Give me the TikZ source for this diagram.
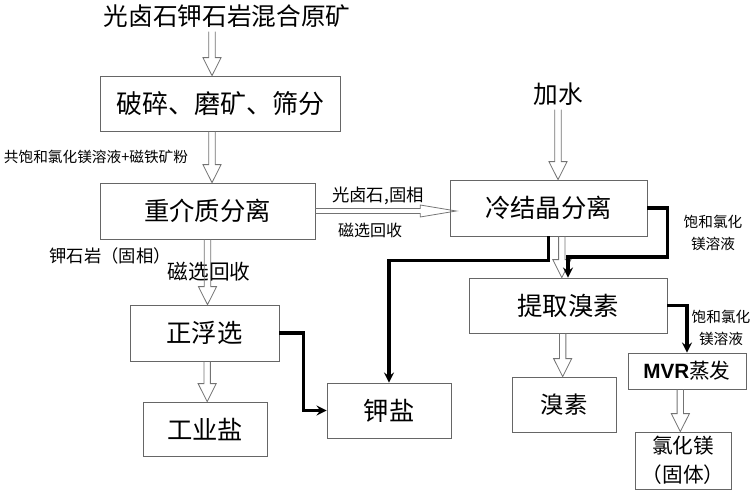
\documentclass[tikz,border=0pt]{standalone}
\usepackage{fontspec}
\setmainfont{Noto Sans CJK SC}
\newfontfamily\arial{Liberation Sans}
\usetikzlibrary{calc}
\begin{document}
\begin{tikzpicture}[
        x=0.75pt, y=-0.75pt,
        box/.style={rectangle, draw=black!60, line width=0.6pt, font=\fontsize{19}{20}\selectfont, align=center, inner sep=0pt},
        lbl/.style={font=\fontsize{11}{17}\selectfont, align=center, inner sep=0pt},
        flow/.style={->, >=stealth, line width=2.3pt},
        hdown/.style={draw=black!55, line width=0.6pt, to path={let \p1=(\tikztostart), \p2=(\tikztotarget) in
            (\x1-2.4pt,\y1) -- (\x1-2.4pt,\y2+13.5pt) -- (\x1-6.8pt,\y2+13.5pt) -- (\x1,\y2)
            -- (\x1+6.8pt,\y2+13.5pt) -- (\x1+2.4pt,\y2+13.5pt) -- (\x1+2.4pt,\y1)}},
        hright/.style={draw=black!55, line width=0.6pt, to path={let \p1=(\tikztostart), \p2=(\tikztotarget) in
            (\x1,\y1-1.9pt) -- (\x2-27pt,\y1-1.9pt) -- (\x2-27pt,\y1-4.5pt) -- (\x2,\y1)
            -- (\x2-27pt,\y1+4.5pt) -- (\x2-27pt,\y1+1.9pt) -- (\x1,\y1+1.9pt)}}
    ]
    \useasboundingbox (0,0) rectangle (753,490);
    \node[lbl, font=\fontsize{18.5}{20}\selectfont] (raw) at (227,16) {光卤石钾石岩混合原矿};
    \node[box, minimum width=180pt, minimum height=41.25pt, font=\fontsize{19.5}{20}\selectfont] (crush) at (220,103.5) {破碎、磨矿、筛分};
    \node[box, minimum width=161.25pt, minimum height=42pt] (dms) at (207.5,211) {重介质分离};
    \node[lbl, font=\fontsize{18.5}{20}\selectfont] (water) at (558,94) {加水};
    \node[box, minimum width=147.75pt, minimum height=42pt] (cold) at (548.5,208) {冷结晶分离};
    \node[box, minimum width=148.5pt, minimum height=41.25pt] (brx) at (568,305.5) {提取溴素};
    \node[box, minimum width=111.75pt, minimum height=42pt] (flot) at (204.5,333) {正浮选};
    \node[box, minimum width=93pt, minimum height=40.5pt] (salt) at (205,429) {工业盐};
    \node[box, minimum width=93pt, minimum height=41.25pt] (potash) at (389,410.5) {钾盐};
    \node[box, minimum width=78pt, minimum height=41.25pt, font=\fontsize{17.5}{20}\selectfont] (bromine) at (564,404.5) {溴素};
    \node[box, minimum width=88.5pt, minimum height=27pt, font=\fontsize{15.5}{20}\selectfont] (mvr) at (687,371) {{\arial\bfseries MVR}蒸发};
    \node[box, minimum width=72pt, minimum height=42.75pt, font=\fontsize{15.5}{22}\selectfont] (mgcl) at (683,460.5) {氯化镁\\（固体）};
    \node[lbl] (medium) at (96,157) {共饱和氯化镁溶液+磁铁矿粉};
    \node[lbl, font=\fontsize{13}{15}\selectfont] (carn) at (378,196) {光卤石,固相};
    \node[lbl, font=\fontsize{12}{15}\selectfont] (magA) at (370,230) {磁选回收};
    \node[lbl, font=\fontsize{13}{15}\selectfont] (sylv) at (110,256) {钾石岩（固相）};
    \node[lbl, font=\fontsize{15.5}{18}\selectfont] (magB) at (209,272) {磁选回收};
    \node[lbl] (brineA) at (713,233) {饱和氯化\\镁溶液};
    \node[lbl] (brineB) at (721,328) {饱和氯化\\镁溶液};
    \draw[hdown] ([xshift=-11.25pt,yshift=-3pt]raw.south) to (crush.north);
    \draw[hdown] ([xshift=-6pt]crush.south) to (dms.north);
    \draw[hdown] (dms.south) to (flot.north);
    \draw[hdown] ([xshift=2pt]flot.south) to (salt.north);
    \draw[hdown] ([yshift=-3pt]water.south) to (cold.north);
    \draw[hdown] ([xshift=10pt]cold.south) to (brx.north);
    \draw[hdown] ([xshift=-4pt]brx.south) to (bromine.north);
    \draw[hdown] ([xshift=-5pt]mvr.south) to (mgcl.north);
    \draw[hright] (dms.east) to ([xshift=5pt]cold.west);
    \draw[flow] (cold.east) -- ++(20,0) -- ++(0,49) -| (brx.north);
    \draw[flow] (cold.south) -- ++(0,24) -| (potash.north);
    \draw[flow] (flot.east) -- ++(24,0) |- (potash.west);
    \draw[flow] (brx.east) -| (mvr.north);
\end{tikzpicture}
\end{document}
